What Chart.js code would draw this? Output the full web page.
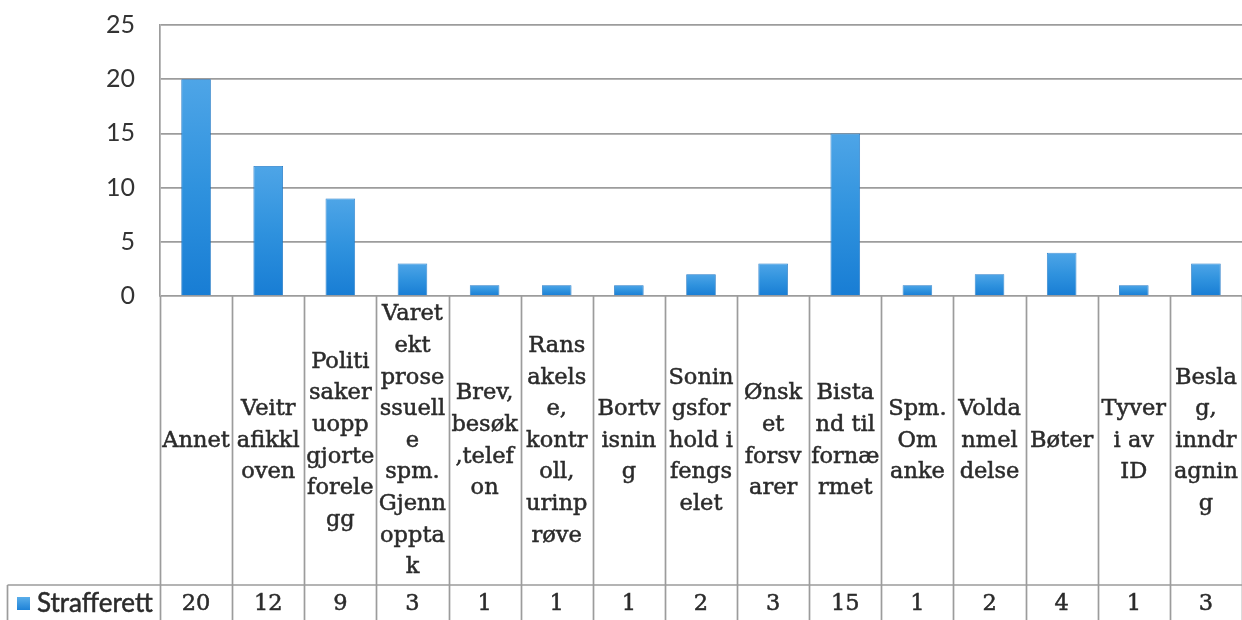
<!DOCTYPE html>
<html>
<head>
<meta charset="utf-8">
<script src="https://cdn.jsdelivr.net/npm/chart.js@4"></script>
<style>
  html, body { margin: 0; padding: 0; background: #ffffff; }
  #wrap { width: 1242px; height: 620px; position: relative; }
</style>
</head>
<body>
<div id="wrap"><canvas id="c" width="1242" height="620"></canvas></div>
<script>
// ---- data ----
const categoryLines = [
  ["Annet"],
  ["Veitr", "afikkl", "oven"],
  ["Politi", "saker", "uopp", "gjorte", "forele", "gg"],
  ["Varet", "ekt", "prose", "ssuell", "e", "spm.", "Gjenn", "oppta", "k"],
  ["Brev,", "besøk", ",telef", "on"],
  ["Rans", "akels", "e,", "kontr", "oll,", "urinp", "røve"],
  ["Bortv", "isnin", "g"],
  ["Sonin", "gsfor", "hold i", "fengs", "elet"],
  ["Ønsk", "et", "forsv", "arer"],
  ["Bista", "nd til", "fornæ", "rmet"],
  ["Spm.", "Om", "anke"],
  ["Volda", "nmel", "delse"],
  ["Bøter"],
  ["Tyver", "i av", "ID"],
  ["Besla", "g,", "inndr", "agnin", "g"]
];
const seriesName = "Strafferett";
const strafferett = [20, 12, 9, 3, 1, 1, 1, 2, 3, 15, 1, 2, 4, 1, 3];
const yTicks = [0, 5, 10, 15, 20, 25];

// ---- style ----
const LINE = "#9c9c9c";
const TEXT = "#2b2b2b";
const SERIF = "'DejaVu Serif', 'Liberation Serif', serif";
const TABLE_SPLIT = 585;   // y of line between header row and value row
const HEADER_CENTER = 441;
const VALUE_CENTER = 604;
const LINE_H = 31.6;

function barFill(ctx) {
  const chart = ctx.chart;
  const ys = chart.scales.y;
  if (!ys || ctx.raw === undefined) return "#2a8cdc";
  const top = ys.getPixelForValue(ctx.raw);
  const bot = ys.getPixelForValue(0);
  if (!isFinite(top) || !isFinite(bot) || top === bot) return "#2a8cdc";
  const g = chart.ctx.createLinearGradient(0, top, 0, bot);
  g.addColorStop(0, "#4ea5e7");
  g.addColorStop(0.5, "#2f92de");
  g.addColorStop(1, "#187dd4");
  return g;
}

function heavyText(ctx, t, x, y) {
  ctx.fillText(t, x, y);
  ctx.strokeText(t, x, y);
}

const tablePlugin = {
  id: "dataTable",
  afterDraw(chart) {
    const ctx = chart.ctx;
    const xs = chart.scales.x;
    const ys = chart.scales.y;
    const area = chart.chartArea;
    const n = strafferett.length;
    const w = xs.getPixelForValue(1) - xs.getPixelForValue(0);
    const y0 = ys.getPixelForValue(0);
    const bottom = chart.height;
    ctx.save();
    ctx.strokeStyle = LINE;
    ctx.lineWidth = 1.7;
    // vertical lines
    for (let i = 0; i <= n; i++) {
      const bx = Math.round(xs.getPixelForValue(i) - w / 2) + 0.5;
      ctx.beginPath();
      ctx.moveTo(bx, y0);
      ctx.lineTo(bx, bottom);
      ctx.stroke();
    }
    // legend cell
    ctx.beginPath();
    ctx.moveTo(7.5, TABLE_SPLIT);
    ctx.lineTo(area.right, TABLE_SPLIT);
    ctx.moveTo(7.5, TABLE_SPLIT);
    ctx.lineTo(7.5, bottom);
    ctx.stroke();

    // category labels
    ctx.fillStyle = TEXT;
    ctx.strokeStyle = TEXT;
    ctx.lineWidth = 0.5;
    ctx.textAlign = "center";
    ctx.textBaseline = "middle";
    ctx.font = "22.5px " + SERIF;
    for (let i = 0; i < n; i++) {
      const cx = xs.getPixelForValue(i);
      const lines = categoryLines[i];
      const startY = HEADER_CENTER - (lines.length - 1) * LINE_H / 2;
      lines.forEach((t, k) => heavyText(ctx, t, cx, startY + k * LINE_H));
      heavyText(ctx, String(strafferett[i]), cx, VALUE_CENTER);
    }
    // legend key
    const g = ctx.createLinearGradient(0, 597, 0, 611);
    g.addColorStop(0, "#5aaeea");
    g.addColorStop(1, "#1a7fd6");
    ctx.fillStyle = g;
    ctx.fillRect(17, 597, 13, 13);
    ctx.fillStyle = TEXT;
    ctx.textAlign = "left";
    ctx.font = "26px Lato, 'Open Sans', sans-serif";
    heavyText(ctx, seriesName, 37, VALUE_CENTER);
    ctx.restore();
  }
};

new Chart(document.getElementById("c"), {
  type: "bar",
  data: {
    labels: categoryLines.map(l => l.join("")),
    datasets: [{
      label: seriesName,
      data: strafferett,
      backgroundColor: barFill,
      borderColor: "#1a74c4",
      borderWidth: 0.8,
      categoryPercentage: 1.0,
      barPercentage: 0.41
    }]
  },
  options: {
    responsive: false,
    animation: false,
    devicePixelRatio: 1,
    layout: { padding: { top: 25, right: 0, left: 0, bottom: 0 } },
    plugins: {
      legend: { display: false },
      tooltip: { enabled: false }
    },
    scales: {
      x: {
        offset: true,
        grid: { display: false },
        border: { display: false },
        ticks: { display: false },
        afterFit(scale) { scale.height = 620 - 296; }
      },
      y: {
        min: 0,
        max: 25,
        afterBuildTicks(scale) { scale.ticks = yTicks.map(v => ({ value: v })); },
        afterFit(scale) { scale.width = 160; },
        grid: { color: LINE, lineWidth: 1.7, drawTicks: true, tickLength: 22, tickColor: "rgba(0,0,0,0)" },
        border: { display: true, color: LINE, width: 1.7 },
        ticks: {
          color: "#333333",
          padding: 3,
          font: { family: "Lato, 'Open Sans', sans-serif", size: 25 }
        }
      }
    }
  },
  plugins: [tablePlugin]
});
</script>
</body>
</html>
